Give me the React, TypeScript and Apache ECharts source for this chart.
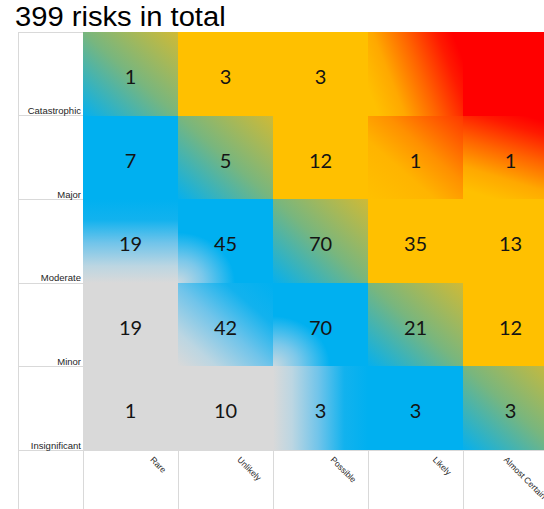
import React, { useEffect, useRef } from "react";
import * as echarts from "echarts";

const TITLE = "399 risks in total";

// Likelihood columns (left → right) and consequence rows (bottom → top)
const likelihood = ["Rare", "Unlikely", "Possible", "Likely", "Almost Certain"];
const consequence = ["Insignificant", "Minor", "Moderate", "Major", "Catastrophic"];

// Number of risks per cell, one list per consequence row, ordered by likelihood
const insignificantCounts = [1, 10, 3, 3, 3];
const minorCounts = [19, 42, 70, 21, 12];
const moderateCounts = [19, 45, 70, 35, 13];
const majorCounts = [7, 5, 12, 1, 1];
const catastrophicCounts = [1, 3, 3, null, null];

// Colour band of each cell:
// 0 grey, 1 grey→blue, 2 blue, 3 blue→amber, 4 amber, 5 amber→red, 6 red
const insignificantBands = [0, 0, 1, 2, 3];
const minorBands = [0, 1, 2, 3, 4];
const moderateBands = [1, 2, 3, 4, 4];
const majorBands = [2, 3, 4, 5, 5];
const catastrophicBands = [3, 4, 4, 5, 6];

const countRows = [insignificantCounts, minorCounts, moderateCounts, majorCounts, catastrophicCounts];
const bandRows = [insignificantBands, minorBands, moderateBands, majorBands, catastrophicBands];

const GRAY = "#d9d9d9";
const BLUE = "#00b0f0";
const AMBER = "#ffc000";
const RED = "#ff0000";
const RULE = "#d9d9d9";
const SANS = '"Liberation Sans", Arial, sans-serif';

const grayToBlue = [
  { offset: 0, color: GRAY },
  { offset: 0.2, color: "#bcd6e2" },
  { offset: 0.48, color: "#70c4ea" },
  { offset: 0.75, color: "#12b2ee" },
  { offset: 1, color: BLUE },
];
const blueToAmber = [
  { offset: 0, color: "#05b0ee" },
  { offset: 0.5, color: "#78b67e" },
  { offset: 1, color: "#cfba36" },
];
const amberToRedStrong = [
  { offset: 0, color: AMBER },
  { offset: 0.25, color: "#ffa800" },
  { offset: 0.55, color: "#ff6400" },
  { offset: 0.85, color: "#ff1a00" },
  { offset: 1, color: RED },
];
const amberToRedWeak = [
  { offset: 0, color: AMBER },
  { offset: 0.35, color: "#ffb400" },
  { offset: 0.6, color: "#ff9000" },
  { offset: 1, color: "#ff3800" },
];

function band(i: number, j: number): number {
  if (j < 0 || j >= bandRows.length || i < 0 || i >= likelihood.length) return -1;
  return bandRows[j][i];
}

function linear(x: number, y: number, x2: number, y2: number, colorStops: any[]) {
  return { type: "linear", x, y, x2, y2, colorStops, global: false };
}

function cellFill(i: number, j: number): any {
  const b = band(i, j);
  if (b === 0) return GRAY;
  if (b === 1) {
    // fade from the grey neighbours towards the blue ones
    const gx = band(i - 1, j) === 0 ? 1 : 0;
    const gy = band(i, j - 1) === 0 ? 1 : 0;
    return linear(0.5 - gx / 2, 0.5 + gy / 2, 0.5 + gx / 2, 0.5 - gy / 2, grayToBlue);
  }
  if (b === 2) {
    if (band(i - 1, j - 1) === 0) {
      return {
        type: "radial",
        x: 0,
        y: 1,
        r: 0.6,
        colorStops: [
          { offset: 0, color: "#cad9e0" },
          { offset: 0.45, color: "#7cc8ea" },
          { offset: 1, color: BLUE },
        ],
        global: false,
      };
    }
    return BLUE;
  }
  if (b === 3) return linear(0, 1, 1, 0, blueToAmber);
  if (b === 4) return AMBER;
  if (b === 5) {
    const r = band(i + 1, j);
    const u = band(i, j + 1);
    const dx = r >= 5 ? 1 : 0.35;
    const dy = u >= 5 ? 1 : 0.35;
    const strong = r === 6 || u === 6;
    return linear(0.5 - dx / 2, 0.5 + dy / 2, 0.5 + dx / 2, 0.5 - dy / 2, strong ? amberToRedStrong : amberToRedWeak);
  }
  return RED;
}

const LABEL_SIZE = 8.5;
let measureCtx: CanvasRenderingContext2D | null = null;
function textWidth(text: string, size: number): number {
  if (!measureCtx) measureCtx = document.createElement("canvas").getContext("2d");
  if (!measureCtx) return text.length * size * 0.5;
  measureCtx.font = `${size}px ${SANS}`;
  return measureCtx.measureText(text).width;
}

export default function App() {
  const ref = useRef<HTMLDivElement>(null);

  useEffect(() => {
    if (!ref.current) return;
    const chart = echarts.init(ref.current, null, { renderer: "svg" });

    const cells: number[][] = [];
    bandRows.forEach((row, j) => row.forEach((_, i) => cells.push([i, j])));

    chart.setOption({
      animation: false,
      backgroundColor: "#ffffff",
      graphic: [
        {
          type: "text",
          x: 15,
          y: 3,
          scaleX: 1.08,
          style: { text: TITLE, fontSize: 27, fontFamily: SANS, fill: "#000000", align: "left", verticalAlign: "top" },
        },
        {
          type: "line",
          shape: { x1: 18.5, y1: 32, x2: 18.5, y2: 509 },
          style: { stroke: RULE, lineWidth: 1 },
        },
      ],
      grid: { left: 83, top: 32, width: 475, height: 418 },
      xAxis: {
        type: "value",
        min: 0,
        max: likelihood.length,
        interval: 1,
        axisLine: { show: true, lineStyle: { color: RULE } },
        axisTick: { show: true, length: 59, lineStyle: { color: RULE } },
        axisLabel: { show: false },
        splitLine: { show: false },
      },
      yAxis: {
        type: "value",
        min: 0,
        max: consequence.length,
        interval: 1,
        axisLine: { show: false },
        axisTick: { show: true, length: 65, lineStyle: { color: RULE } },
        axisLabel: {
          formatter: (v: number) => consequence[v] ?? "",
          verticalAlign: "bottom",
          align: "right",
          margin: 2,
          fontSize: 9.5,
          fontFamily: SANS,
          color: "#1e1e1e",
        },
        splitLine: { show: false },
      },
      series: [
        {
          type: "custom",
          name: "cells",
          data: cells,
          renderItem: (_params: any, api: any) => {
            const i = api.value(0);
            const j = api.value(1);
            const tl = api.coord([i, j + 1]);
            const br = api.coord([i + 1, j]);
            const x0 = Math.round(tl[0]);
            const y0 = Math.round(tl[1]);
            const x1 = Math.round(br[0]);
            const y1 = Math.round(br[1]);
            const count = countRows[j][i];
            const children: any[] = [
              {
                type: "rect",
                shape: { x: x0, y: y0, width: x1 - x0, height: y1 - y0 },
                style: { fill: cellFill(i, j) },
              },
            ];
            if (count != null) {
              children.push({
                type: "text",
                x: (x0 + x1) / 2,
                y: (y0 + y1) / 2 + 2,
                style: {
                  text: String(count),
                  align: "center",
                  verticalAlign: "middle",
                  fontSize: 20,
                  fontFamily: "Lato, sans-serif",
                  fill: "#141414",
                },
              });
            }
            return { type: "group", children };
          },
        },
        {
          type: "custom",
          name: "likelihood",
          data: likelihood.map((_, i) => [i, 0]),
          renderItem: (_params: any, api: any) => {
            const i = api.value(0);
            const corner = api.coord([i + 1, 0]);
            const name = likelihood[i];
            const w = textWidth(name, LABEL_SIZE);
            return {
              type: "text",
              x: corner[0] - 10 - Math.SQRT1_2 * w,
              y: corner[1] + 5,
              rotation: -Math.PI / 4,
              style: {
                text: name,
                align: "left",
                verticalAlign: "top",
                fontSize: LABEL_SIZE,
                fontFamily: SANS,
                fill: "#1e1e1e",
              },
            };
          },
        },
      ],
    });

    return () => chart.dispose();
  }, []);

  return (
    <div style={{ position: "fixed", left: 0, top: 0, width: 544, height: 509, overflow: "hidden", background: "#fff" }}>
      <div ref={ref} style={{ width: 572, height: 509 }} />
    </div>
  );
}
